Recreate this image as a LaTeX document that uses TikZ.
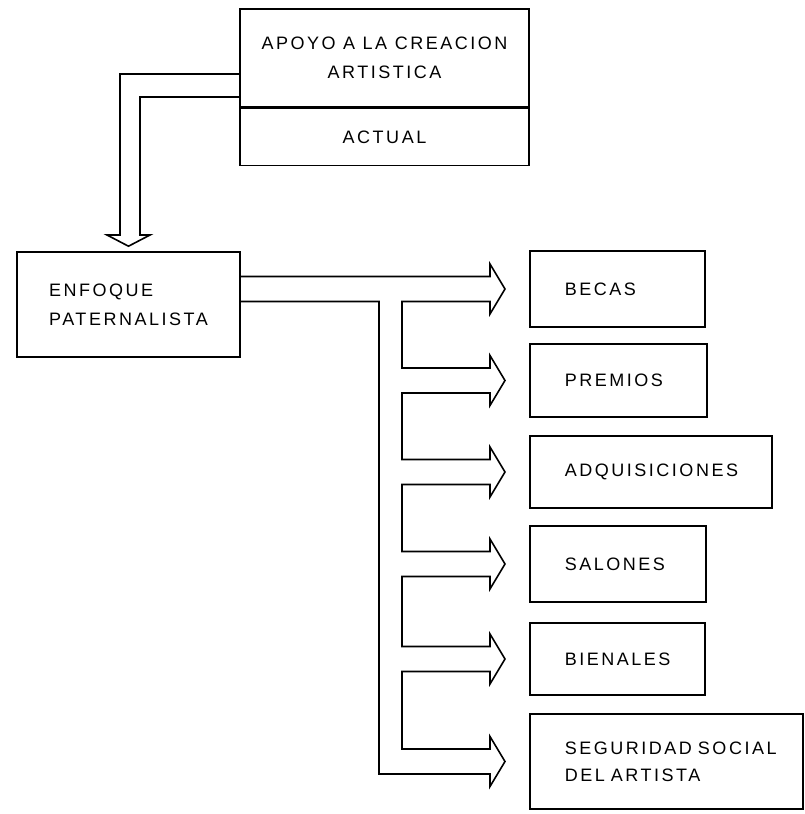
\documentclass[tikz,border=0pt]{standalone}
\usepackage{fontspec}
\setmainfont{Liberation Sans}[LetterSpace=14]
\usepackage{tikz}
\usetikzlibrary{positioning, calc}

\begin{document}
\begin{tikzpicture}[x=1pt, y=-1pt]

			\tikzstyle{box}=[draw=black, line width=1.6pt, font=\fontsize{18}{29}\selectfont, align=center, inner sep=0pt]
			\tikzstyle{item}=[box, anchor=west, align=left, inner xsep=35pt]
			\tikzstyle{pipe}=[draw=black, line width=1.6pt, line join=miter]

			\useasboundingbox (0,0) rectangle (804,814);

			\node (apoyo) at (384.5,58) [box, minimum width=289pt, minimum height=98pt] {APOYO A LA CREACION\\ARTISTICA};
			\node (actual) [box, below=0pt of apoyo, minimum width=289pt, minimum height=57pt] {ACTUAL};

			\node (enfoque) at (128.5,304.5) [box, align=left, minimum width=223pt, minimum height=105pt] {ENFOQUE\\PATERNALISTA};

			\node (becas) at (529,289) [item, text width=105pt, minimum height=76pt] {BECAS};
			\node (premios) at (529,380.5) [item, text width=107pt, minimum height=73pt] {PREMIOS};
			\node (adq) at (529,472) [item, text width=172pt, minimum height=72pt] {ADQUISICIONES};
			\node (salones) at (529,564) [item, text width=106pt, minimum height=76pt] {SALONES};
			\node (bienales) at (529,659) [item, text width=105pt, minimum height=72pt] {BIENALES};
			\node (seguridad) at (529,761.5) [item, text width=203pt, minimum height=95pt, font=\fontsize{18}{27}\selectfont] {\mbox{SEGURIDAD SOCIAL}\\DEL ARTISTA};


			%% hollow arrow down
			\draw [pipe] (apoyo.west |- 0,74) -| (120,235) -- ++(-13,0) -- ($(enfoque.north)+(0,-5)$)
				-- (150,235) -- ++(-10,0) |- (apoyo.west |- 0,97);

			%% hollow arrow to the right, split into six
			\draw [pipe] ($(enfoque.east |- becas.west)+(0,-12.5)$)
				\foreach \b/\n in {becas/premios, premios/adq, adq/salones, salones/bienales, bienales/seguridad} {
					-- ($(\b.west)+(-39,-12.5)$) -- ++(0,-12.5) -- ($(\b.west)+(-24,0)$)
					-- ($(\b.west)+(-39,25)$) -- ++(0,-12.5) -- ++(-88,0) |- ($(\n.west)+(-39,-12.5)$)
				}
				-- ++(0,-12.5) -- ($(seguridad.west)+(-24,0)$) -- ($(seguridad.west)+(-39,25)$) -- ++(0,-12.5)
				-- ++(-111,0) |- ($(enfoque.east |- becas.west)+(0,12.5)$);

\end{tikzpicture}
\end{document}
